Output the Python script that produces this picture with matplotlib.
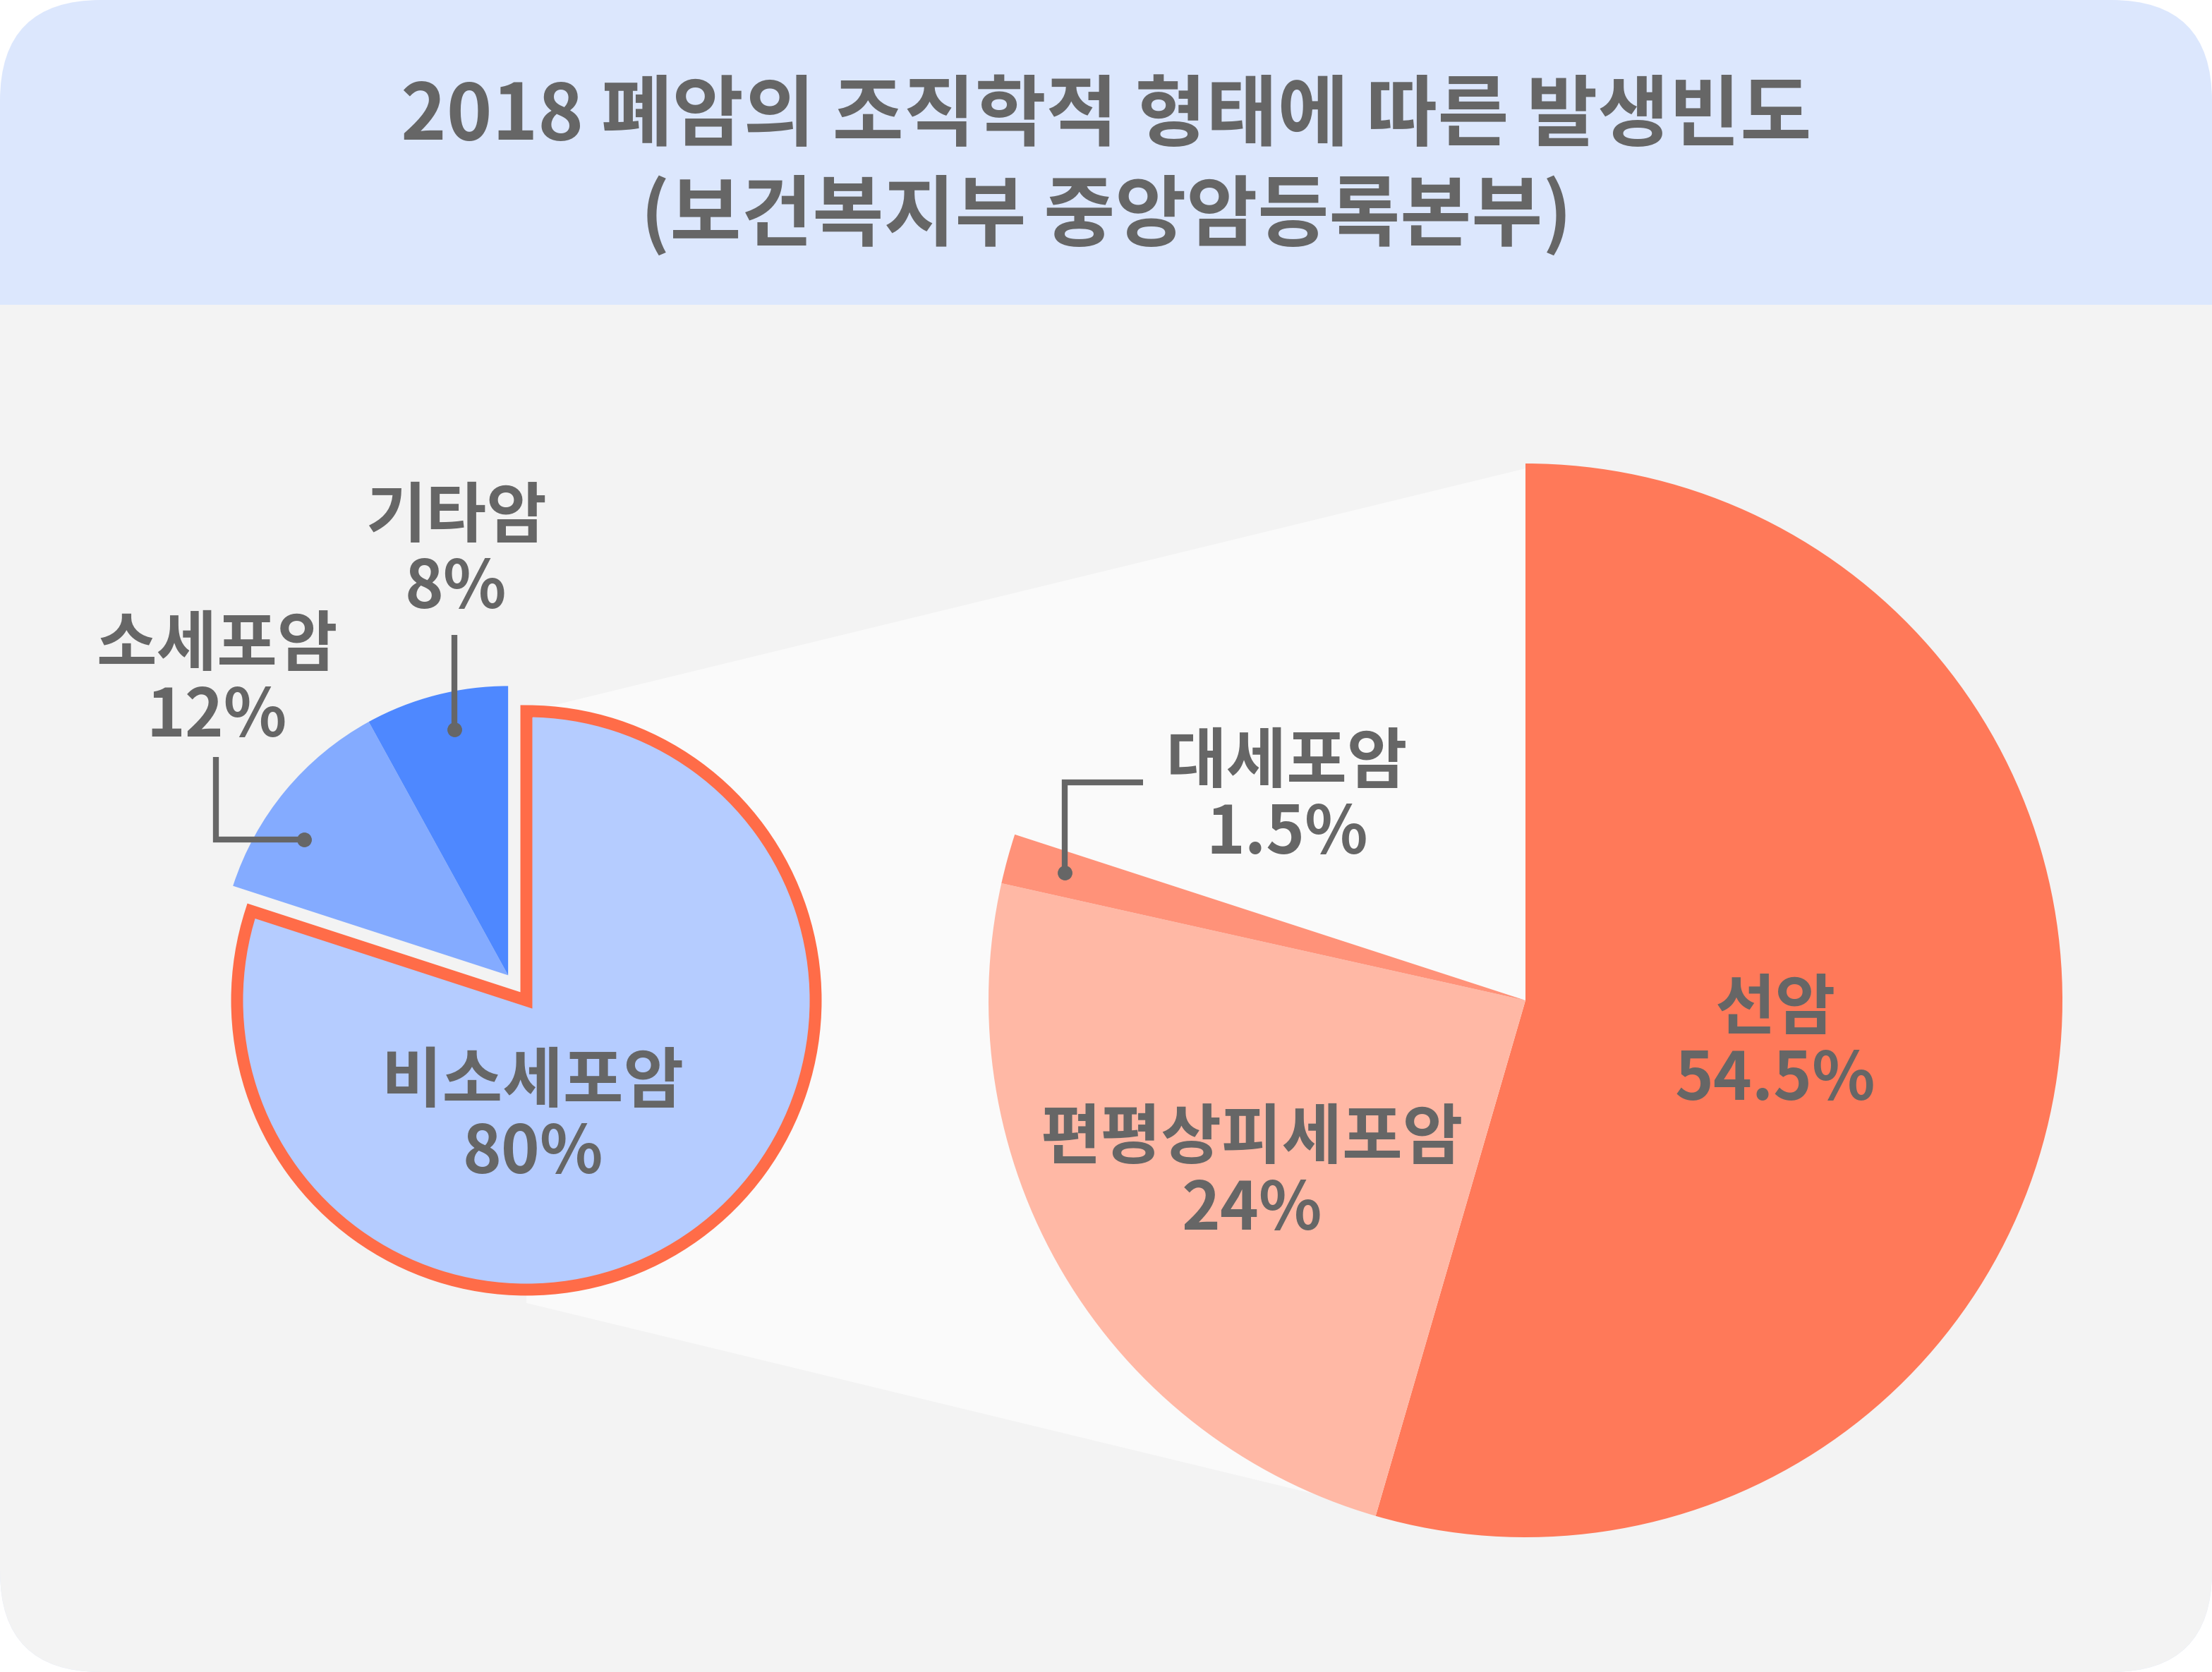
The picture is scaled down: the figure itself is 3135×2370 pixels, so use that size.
import matplotlib.pyplot as plt
from matplotlib.patches import FancyBboxPatch, Rectangle, Polygon
import numpy as np

W, H = 3135, 2370
plt.rcParams['font.family'] = ['Noto Sans CJK KR', 'DejaVu Sans']

# data
title_lines = ['2018 폐암의 조직학적 형태에 따른 발생빈도', '(보건복지부 중앙암등록본부)']
lung_types = ['비소세포암', '소세포암', '기타암']
lung_share = [80, 12, 8]
nsclc_types = ['선암', '편평상피세포암', '대세포암']
nsclc_share = [54.5, 24, 1.5]   # percent of all lung cancer

lung_colors = ['#b5ccff', '#84abff', '#4e88ff']
nsclc_colors = ['#ff7959', '#ffb8a5', '#ff9279']
TXT = '#666666'


def Y(y):
    # image rows (top down) -> data y (bottom up)
    return H - y


fig = plt.figure(figsize=(W / 100, H / 100), dpi=100)
ax = fig.add_axes([0, 0, 1, 1])

# card background with header
card = FancyBboxPatch((0, 0), W, H, boxstyle='round,pad=0,rounding_size=143',
                      fc='#dce7fd', ec='none', zorder=0)
ax.add_patch(card)
body = Rectangle((0, 0), W, H - 432, fc='#f3f3f3', ec='none', zorder=0)
ax.add_patch(body)
body.set_clip_path(card)

# connecting band between the two pies
band = Polygon([(746, Y(1009)), (2162, Y(664)), (2162, Y(2100)),
                (2050, Y(2163)), (746, Y(1847))],
               closed=True, fc='#fafafa', ec='none', zorder=1)
ax.add_patch(band)

# left pie: all lung cancer
lc = (746, Y(1418))
lw, _ = ax.pie(np.array(lung_share) / 100, center=lc, radius=410, startangle=90,
               counterclock=False, colors=lung_colors, normalize=False, frame=True,
               wedgeprops=dict(zorder=2))
main = lw[0]
main.set_edgecolor('#ff6c48')
main.set_linewidth(12.2)
main.set_joinstyle('miter')
main.set_zorder(3)
mid = np.deg2rad((min(w.theta1 for w in lw[1:]) + max(w.theta2 for w in lw[1:])) / 2)
for w in lw[1:]:
    w.set_center((lc[0] + 44 * np.cos(mid), lc[1] + 44 * np.sin(mid)))

# right pie: non-small cell breakdown (leaves the 20% gap empty)
rw, _ = ax.pie(np.array(nsclc_share) / 100, center=(2162, Y(1418)), radius=761,
               startangle=90, counterclock=False, colors=nsclc_colors,
               normalize=False, frame=True, wedgeprops=dict(zorder=2))


def label(x, yc, name, val, fs=67):
    em = fs * 100 / 72
    ax.text(x, Y(yc + 0.37 * em), name, ha='center', va='baseline', fontsize=fs,
            fontweight='bold', color=TXT, zorder=5)
    ax.text(x, Y(yc + 101 + 0.37 * em), f'{val:g}%', ha='center', va='baseline',
            fontsize=fs, fontweight='bold', color=TXT, zorder=5)


label(755, 1528, lung_types[0], lung_share[0])
label(307, 909, lung_types[1], lung_share[1])
label(646, 727, lung_types[2], lung_share[2])
label(2516, 1424, nsclc_types[0], nsclc_share[0])
label(1774, 1608, nsclc_types[1], nsclc_share[1])
label(1824, 1075, nsclc_types[2], nsclc_share[2])

# leader lines
leaders = [([644, 644], [900, 1034]),
           ([306, 306, 431], [1073, 1190, 1190]),
           ([1620, 1509, 1509], [1109, 1109, 1237])]
for xs, ys in leaders:
    ax.plot(xs, [Y(v) for v in ys], color=TXT, lw=6, solid_joinstyle='miter',
            solid_capstyle='butt', zorder=4)
    ax.plot(xs[-1], Y(ys[-1]), 'o', ms=14, color=TXT, zorder=4)

# title
tfs = 79
tem = tfs * 100 / 72
for yc, line in zip([157, 299], title_lines):
    ax.text(W / 2, Y(yc + 0.37 * tem), line, ha='center', va='baseline',
            fontsize=tfs, fontweight='bold', color=TXT, zorder=5)

ax.set_xlim(0, W)
ax.set_ylim(0, H)
ax.set_aspect('equal')
ax.axis('off')

fig.savefig('out.png', dpi=100, facecolor='white')
